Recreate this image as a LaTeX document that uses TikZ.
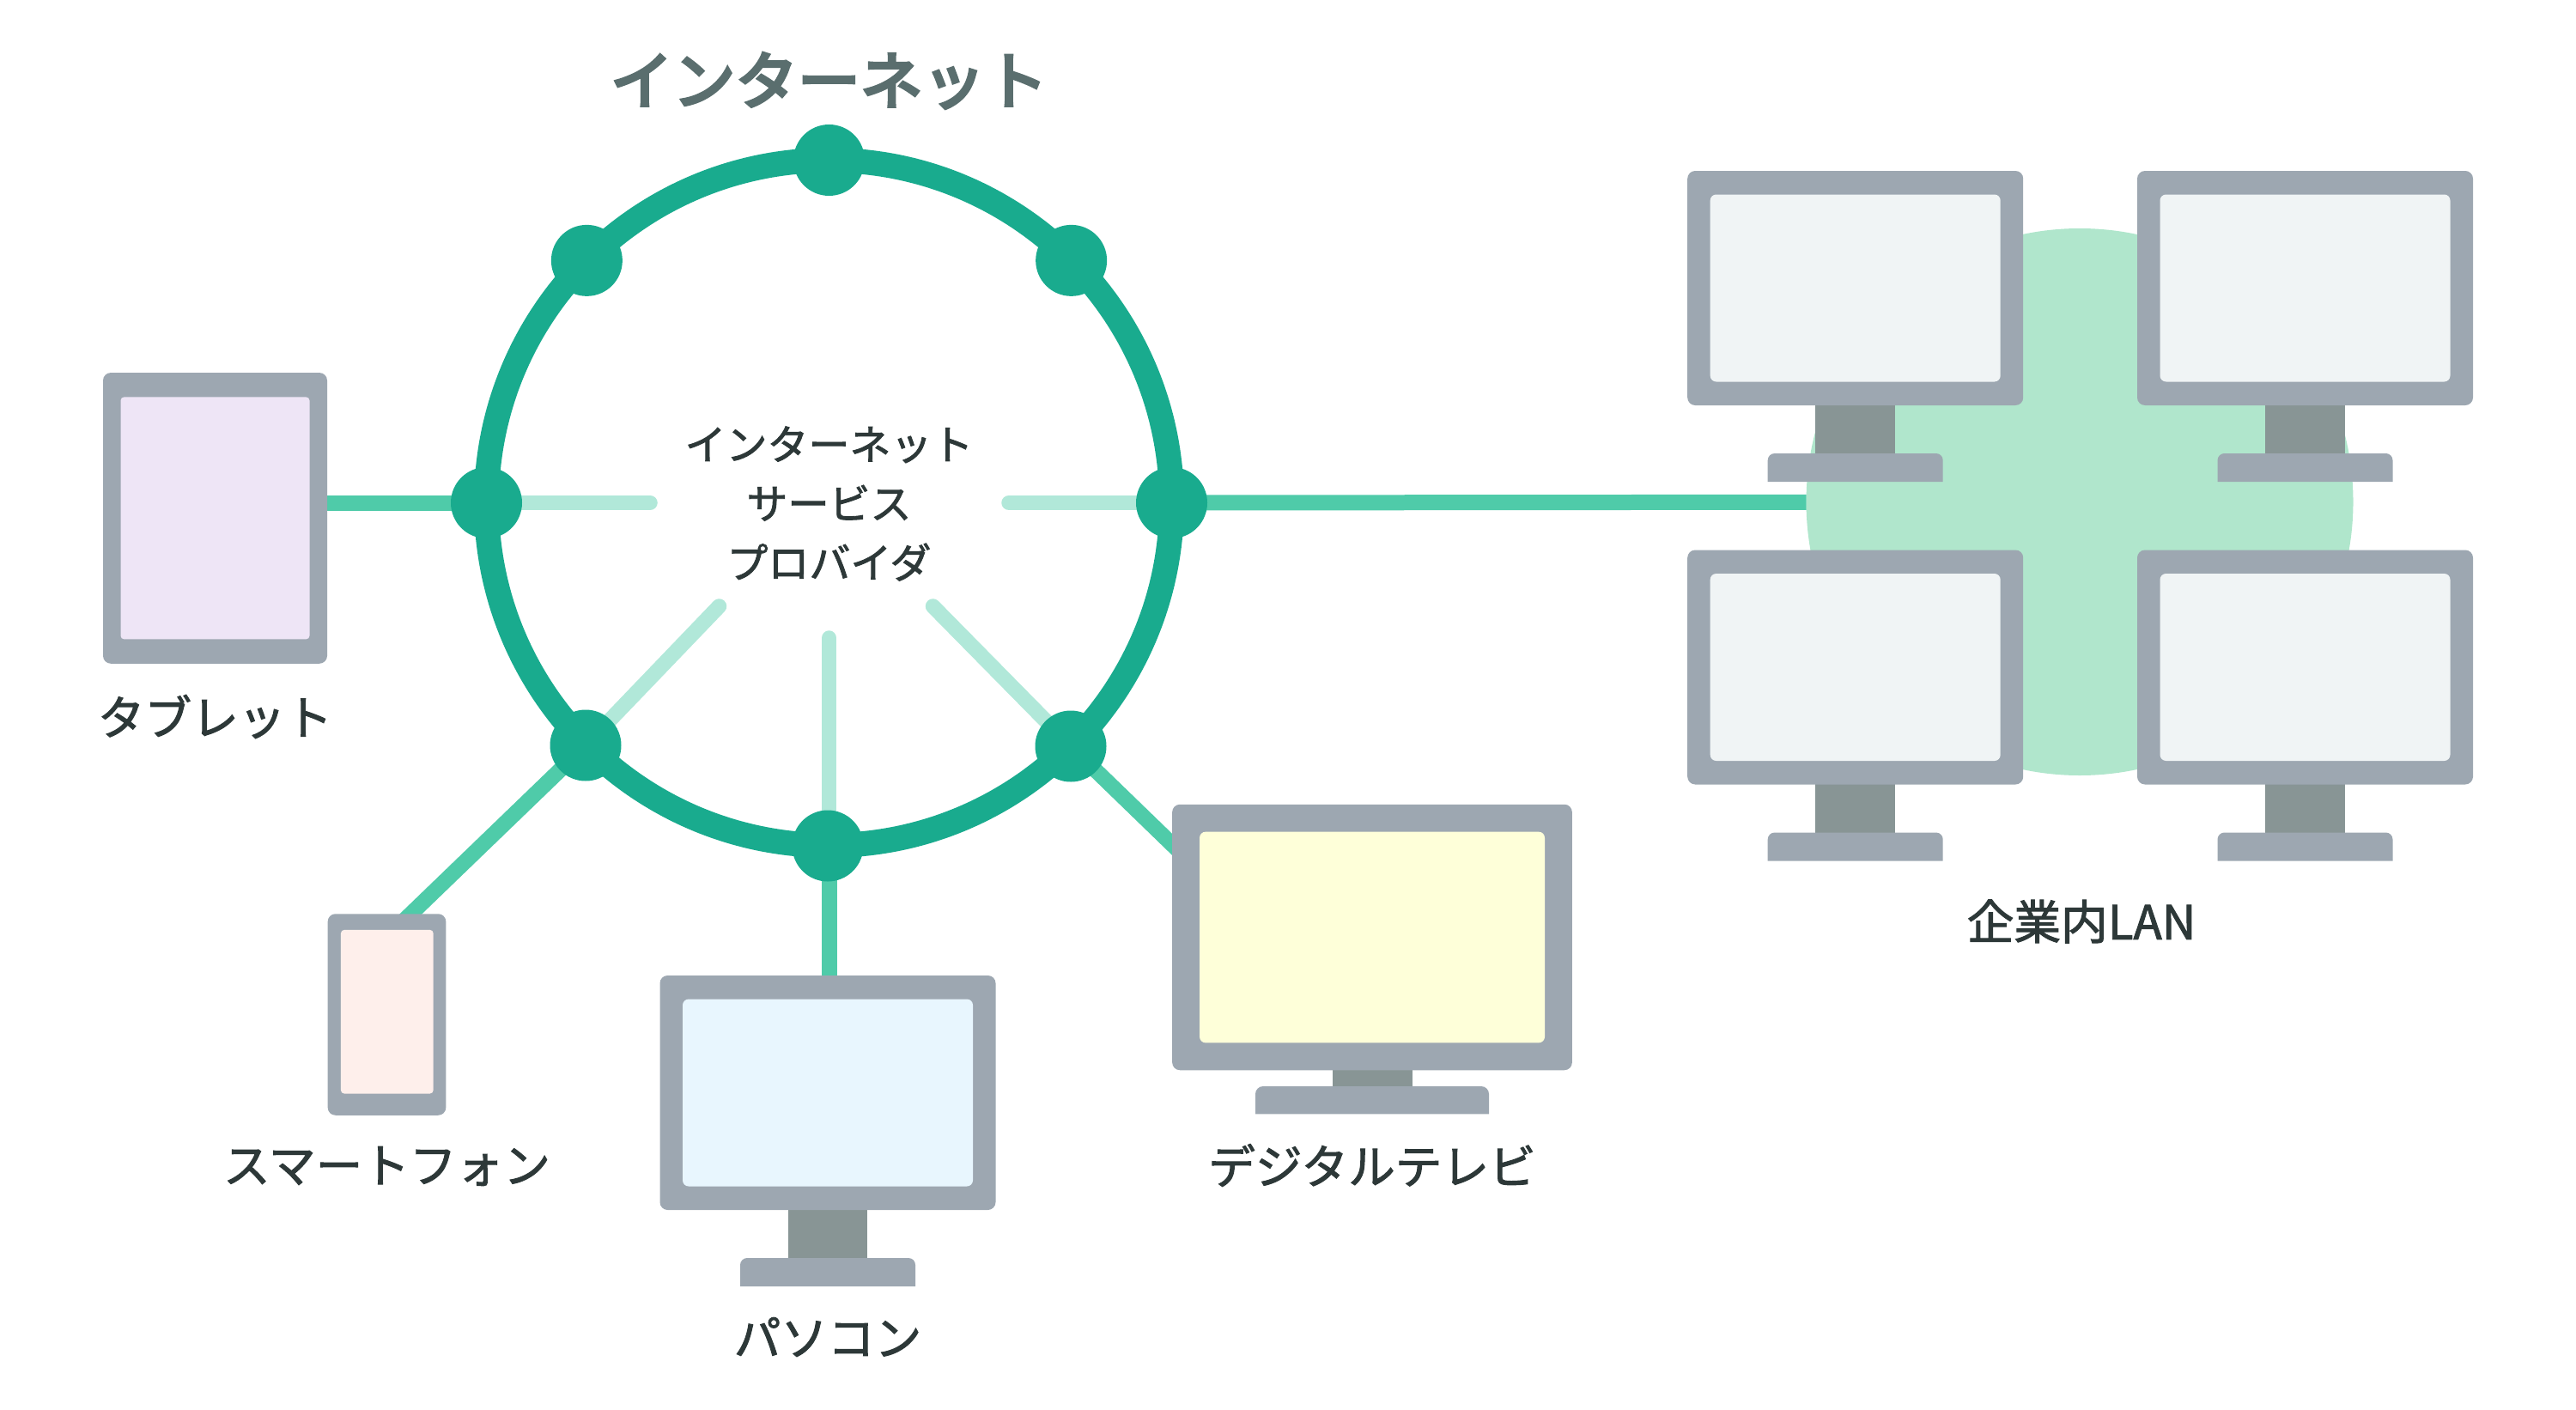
\documentclass[tikz,border=0pt]{standalone}
\usepackage{fontspec}
\usepackage{xcolor}
\usetikzlibrary{backgrounds}
\setmainfont{Noto Sans CJK JP}[FakeBold=1.8]
\newfontfamily\titlefont{Noto Sans CJK JP}[FakeBold=5]

\definecolor{ringgreen}{HTML}{19AB8E}
\definecolor{linkgreen}{HTML}{4FCBA9}
\definecolor{spokegreen}{HTML}{B1E8D9}
\definecolor{langreen}{HTML}{B0E6CC}
\definecolor{devgray}{HTML}{9DA7B1}
\definecolor{neckgray}{HTML}{889595}
\definecolor{textdark}{HTML}{2D3838}
\definecolor{titlegray}{HTML}{5A6E6E}
\definecolor{tabletscreen}{HTML}{EEE5F6}
\definecolor{phonescreen}{HTML}{FEEFEB}
\definecolor{pcscreen}{HTML}{E8F6FE}
\definecolor{tvscreen}{HTML}{FEFFD9}
\definecolor{lanscreen}{HTML}{F0F4F5}

\tikzset{
    devframe/.style={fill=devgray, rounded corners=0.09cm, inner sep=0pt, outer sep=0pt},
    devscreen/.style={rounded corners=0.07cm, inner sep=0pt, outer sep=0pt},
    devneck/.style={fill=neckgray, inner sep=0pt, outer sep=0pt},
    hub/.style={circle, fill=ringgreen, minimum size=0.83cm, inner sep=0pt, outer sep=0pt},
    link/.style={draw=linkgreen, line width=0.18cm},
    spoke/.style={draw=spokegreen, line width=0.175cm, line cap=round},
    devlabel/.style={text=textdark, inner sep=0pt, font=\fontsize{15.55}{20}\selectfont},
    pics/monitor/.style={code={
        \node[devneck, minimum width=0.925cm, minimum height=0.58cm] (-neck) at (0,-1.64) {};
        \fill[devgray] (-1.02,-2.255) -- (-1.02,-2.005) arc[start angle=180, end angle=90, radius=0.08cm]
            -- (0.94,-1.925) arc[start angle=90, end angle=0, radius=0.08cm] -- (1.02,-2.255) -- cycle;
        \node[devframe, minimum width=3.91cm, minimum height=2.73cm] (-frame) at (0,0) {};
        \node[devscreen, fill=#1, minimum width=3.38cm, minimum height=2.18cm] (-screen) at (0,0) {};
    }}
}

\begin{document}
\begin{tikzpicture}
    \useasboundingbox (0,0) rectangle (30,16.41);

    % ring with its hubs
    \begin{scope}[shift={(9.655,10.555)}]
        \draw[ringgreen, line width=0.29cm] (0,0) circle (3.99cm);
        \node[hub] (hT) at (90:3.99cm) {};
        \node[hub] (hUL) at (135:3.99cm) {};
        \node[hub] (hUR) at (45:3.99cm) {};
        \node[hub] (hL) at (180:3.99cm) {};
        \node[hub] (hR) at (0:3.99cm) {};
        \node[hub] (hLL) at (-2.835,-2.825) {};
        \node[hub] (hLR) at (2.815,-2.835) {};
        \node[hub] (hB) at (-0.015,-3.995) {};

        \coordinate (eL) at (-2.085,0);
        \coordinate (eR) at (2.095,0);
        \coordinate (eLL) at (-1.28,-1.205);
        \coordinate (eLR) at (1.21,-1.205);
        \coordinate (eB) at (0,-1.575);

        \node[text=titlegray, inner sep=0pt, font=\fontsize{20.7}{25}\selectfont\titlefont] (title) at (0,4.915) {インターネット};
        \node[text=textdark, inner sep=0pt, align=center, font=\fontsize{13.65}{19.6}\selectfont] (isp) at (0,-0.01) {インターネット\\サービス\\プロバイダ};
    \end{scope}

    % tablet
    \node[devframe, minimum width=2.61cm, minimum height=3.387cm] (tablet) at (2.505,10.376) {};
    \node[devscreen, fill=tabletscreen, minimum width=2.2cm, minimum height=2.82cm, rounded corners=0.04cm] (tabletscr) at (2.505,10.376) {};
    \node[devlabel] (tabletlbl) at (2.505,8.065) {タブレット};

    % phone
    \node[devframe, minimum width=1.377cm, minimum height=2.345cm] (phone) at (4.505,4.595) {};
    \node[devscreen, fill=phonescreen, minimum width=1.077cm, minimum height=1.907cm, rounded corners=0.04cm] (phonescr) at (4.508,4.628) {};
    \node[devlabel] (phonelbl) at (4.505,2.83) {スマートフォン};
    \coordinate (phonetop) at (4.57,5.56);

    % pc
    \pic (pc) at (9.64,3.685) {monitor=pcscreen};
    \node[devlabel] (pclbl) at (9.64,0.84) {パソコン};

    % tv
    \node[devneck, minimum width=0.93cm, minimum height=0.22cm] (tvneck) at (15.98,3.85) {};
    \fill[devgray] (14.62,3.436) -- (14.62,3.67) arc[start angle=180, end angle=90, radius=0.09cm]
        -- (17.25,3.76) arc[start angle=90, end angle=0, radius=0.09cm] -- (17.34,3.436) -- cycle;
    \node[devframe, minimum width=4.657cm, minimum height=3.095cm] (tv) at (15.98,5.495) {};
    \node[devscreen, fill=tvscreen, minimum width=4.02cm, minimum height=2.457cm] (tvscr) at (15.98,5.495) {};
    \node[devlabel] (tvlbl) at (15.98,2.84) {デジタルテレビ};
    \coordinate (tvside) at (13.75,6.48);

    % lan
    \pic (m1) at (21.607,13.055) {monitor=lanscreen};
    \pic (m2) at (26.845,13.055) {monitor=lanscreen};
    \pic (m3) at (21.607,8.64) {monitor=lanscreen};
    \pic (m4) at (26.845,8.64) {monitor=lanscreen};
    \node[devlabel] (lanlbl) at (24.24,5.68) {企業内LAN};

    \begin{scope}[on background layer]
        \node[circle, fill=langreen, minimum size=6.37cm, inner sep=0pt, outer sep=0pt] (lan) at (24.22,10.565) {};

        \draw[spoke] (hL.center) -- (eL);
        \draw[spoke] (hR.center) -- (eR);
        \draw[spoke] (hLL.center) -- (eLL);
        \draw[spoke] (hLR.center) -- (eLR);
        \draw[spoke] (hB.center -| eB) -- (eB);

        \draw[link] (hL.center) -- (hL.center -| tablet.center);
        \draw[link] (hR.center) -- (lan);
        \draw[link] (hLL.center) -- (phonetop);
        \draw[link] (hB.center -| eB) -- (pc-frame.center -| eB);
        \draw[link] (hLR.center) -- (tvside);
    \end{scope}
\end{tikzpicture}
\end{document}
